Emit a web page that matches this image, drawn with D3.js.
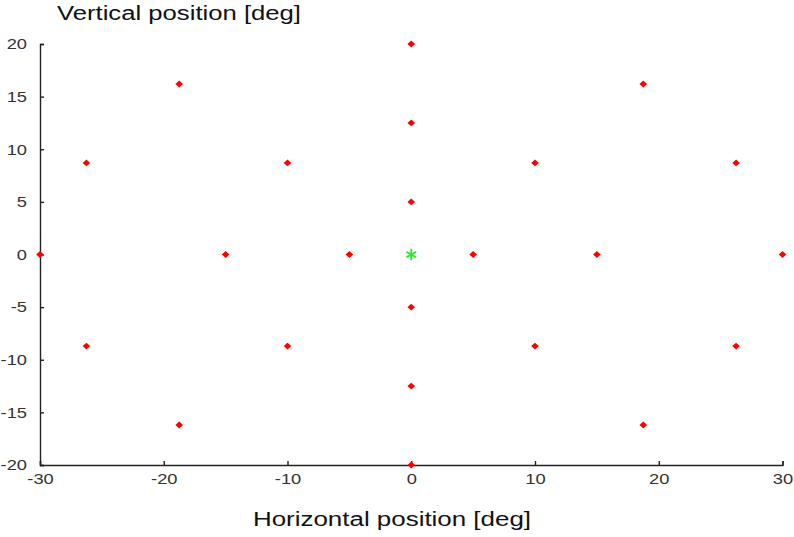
<!DOCTYPE html>
<html><head><meta charset="utf-8">
<script src="https://cdn.jsdelivr.net/npm/d3@7"></script>
<style>body{margin:0;background:#fff}svg{display:block}</style>
</head><body>
<svg id="c" width="794" height="537"></svg>
<script>
const xTicks = [-30,-20,-10,0,10,20,30];
const yTicks = [-20,-15,-10,-5,0,5,10,15,20];
const targetX = [0,0,0,0,0,0,-18.75,18.75,-26.25,-10,10,26.25,-30,-15,-5,5,15,30,-26.25,-10,10,26.25,-18.75,18.75];
const targetY = [20,12.5,5,-5,-12.5,-20,16.2,16.2,8.7,8.7,8.7,8.7,0,0,0,0,0,0,-8.7,-8.7,-8.7,-8.7,-16.2,-16.2];
const fixX = [0], fixY = [0];
const xLabel = "Horizontal position [deg]";
const yLabel = "Vertical position [deg]";

const FONT = "Liberation Sans, Arial, sans-serif";
const STRETCH = 1.22;
const svg = d3.select("#c");
const L = 40, R = 782.5, T = 44, B = 465;
const x = d3.scaleLinear().domain([-30,30]).range([L,R]);
const y = d3.scaleLinear().domain([-20,20]).range([B,T]);

const fmt = d => String(d);
const gx = svg.append("g").attr("transform",`translate(0,${B})`)
  .call(d3.axisBottom(x).tickValues(xTicks).tickFormat(fmt).tickSize(-4).tickPadding(8).tickSizeOuter(-4));
const gy = svg.append("g").attr("transform",`translate(${L},0)`)
  .call(d3.axisLeft(y).tickValues(yTicks).tickFormat(fmt).tickSize(-4).tickPadding(13).tickSizeOuter(-4));
[gx,gy].forEach(g=>{
  g.selectAll("path,line").attr("stroke","#222").attr("stroke-width",1.4);
  g.selectAll("text").attr("font-family",FONT).attr("font-size",15).attr("fill","#333")
    .each(function(){
      const w = this.getComputedTextLength();
      d3.select(this).attr("textLength", w*STRETCH).attr("lengthAdjust","spacingAndGlyphs");
    });
});

const diamond = d3.symbol().type(d3.symbolDiamond).size(24);
svg.append("g").selectAll("path").data(targetX.map((v,i)=>[v,targetY[i]])).join("path")
  .attr("d",diamond).attr("transform",d=>`translate(${x(d[0])},${y(d[1])}) scale(1.45,0.75)`)
  .attr("fill","#f00");

const star = d3.symbol().type(d3.symbolAsterisk).size(90);
svg.append("g").selectAll("path").data(fixX.map((v,i)=>[v,fixY[i]])).join("path")
  .attr("d",star).attr("transform",d=>`translate(${x(d[0])},${y(d[1])})`)
  .attr("fill","none").attr("stroke","#22ee22").attr("stroke-width",1.8);

svg.append("text").attr("x",57).attr("y",20).attr("font-family",FONT)
  .attr("font-size",20).attr("fill","#111").attr("textLength",244).attr("lengthAdjust","spacingAndGlyphs").text(yLabel);
svg.append("text").attr("x",253).attr("y",526).attr("font-family",FONT)
  .attr("font-size",20).attr("fill","#111").attr("textLength",278).attr("lengthAdjust","spacingAndGlyphs").text(xLabel);
</script>
</body></html>
